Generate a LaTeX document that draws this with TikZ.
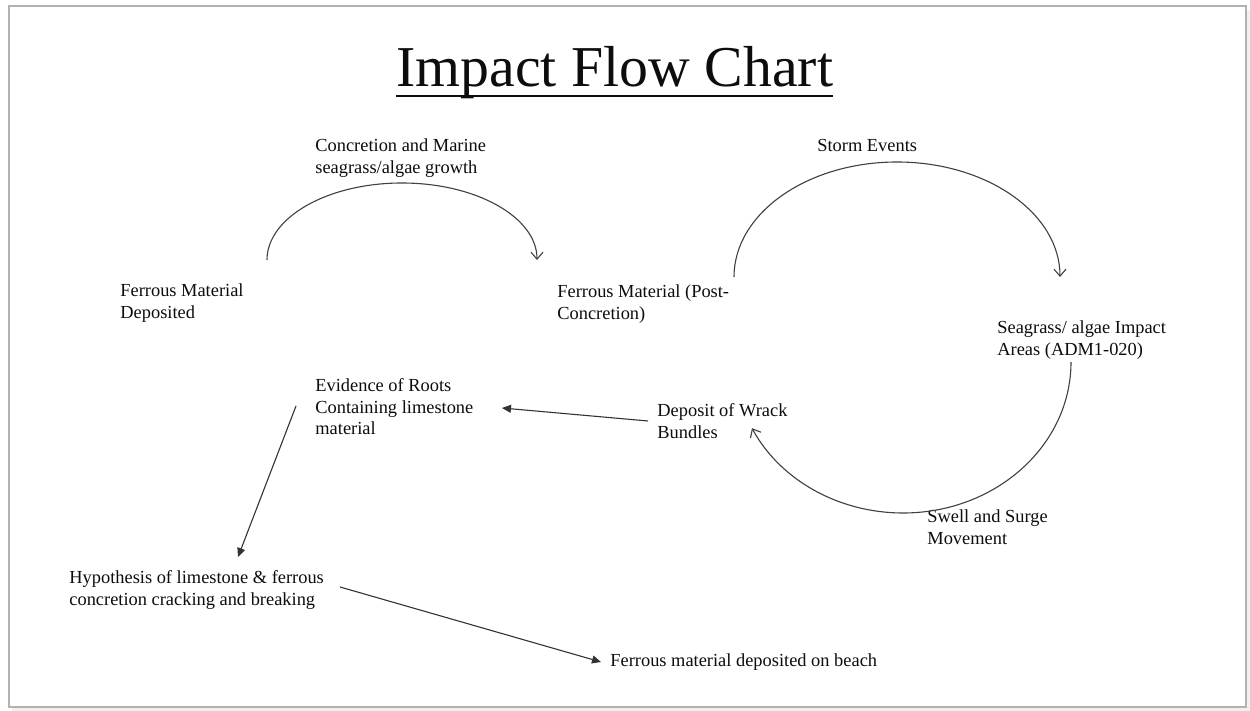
\documentclass[tikz,border=0pt]{standalone}
\usepackage{fontspec}
\setmainfont{Liberation Serif}
\usetikzlibrary{arrows.meta}
\begin{document}
\begin{tikzpicture}[x=0.5pt,y=-0.5pt,
  lbl/.style={anchor=base west, inner sep=0pt, align=left, font=\fontsize{9.2}{10.75}\selectfont, text=black!95},
  curvearrow/.style={draw=black!75, line width=0.55pt, -{Straight Barb[length=3.5pt,width=6pt]}},
  straightarrow/.style={draw=black!80, line width=0.55pt, -{Triangle[length=4.5pt,width=4pt]}},
]
\useasboundingbox (0,0) rectangle (1250,711);
% frame with soft shadow
\fill[black!6] (12,10) rectangle (1250,711);
\fill[white] (9,6) rectangle (1246,707);
\draw[black!30, line width=0.6pt] (9,6) rectangle (1246,707);

% title
\node[anchor=base west, inner sep=0pt, font=\fontsize{28.9}{34}\selectfont, text=black!95] (title) at (396,87) {Impact Flow Chart};
\draw[black!95, line width=1.1pt] ([yshift=-4.5pt]title.base west) -- ([yshift=-4.5pt]title.base east);

% text nodes (base = baseline of the last line)
\node[lbl] (conc) at (315,173.5) {Concretion and Marine\\seagrass/algae growth};
\node[lbl] (fmd) at (120,318.5) {Ferrous Material\\Deposited};
\node[lbl] (fmpc) at (557,319.5) {Ferrous Material (Post-\\Concretion)};
\node[lbl] (storm) at (817,152) {Storm Events};
\node[lbl] (sea) at (997,355.5) {Seagrass/ algae Impact\\Areas (ADM1-020)};
\node[lbl] (wrack) at (657,438.5) {Deposit of Wrack\\Bundles};
\node[lbl] (swell) at (927,544.5) {Swell and Surge\\Movement};
\node[lbl] (roots) at (315,435) {Evidence of Roots\\Containing limestone\\material};
\node[lbl] (hyp) at (69,605.5) {Hypothesis of limestone \& ferrous\\concretion cracking and breaking};
\node[lbl] (beach) at (610,667) {Ferrous material deposited on beach};

% curved connectors
\coordinate (fmdOut) at (267,260);
\coordinate (stormOut) at (734,277);
\coordinate (seaOut) at (1071,362);
\draw[curvearrow] (fmdOut) arc[start angle=180, end angle=360, x radius=135, y radius=77];
\draw[curvearrow] (stormOut) arc[start angle=180, end angle=360, x radius=163, y radius=115];
\draw[curvearrow] (seaOut) arc[start angle=0, end angle=154, x radius=168, y radius=151];

% straight connectors
\coordinate (wrackOut) at (648,421);
\coordinate (rootsIn) at (502,408);
\coordinate (rootsOut) at (296,406);
\coordinate (hypIn) at (238,557);
\coordinate (hypOut) at (340,587);
\coordinate (beachIn) at (601,662);
\draw[straightarrow] (wrackOut) -- (rootsIn);
\draw[straightarrow] (rootsOut) -- (hypIn);
\draw[straightarrow] (hypOut) -- (beachIn);
\end{tikzpicture}
\end{document}
